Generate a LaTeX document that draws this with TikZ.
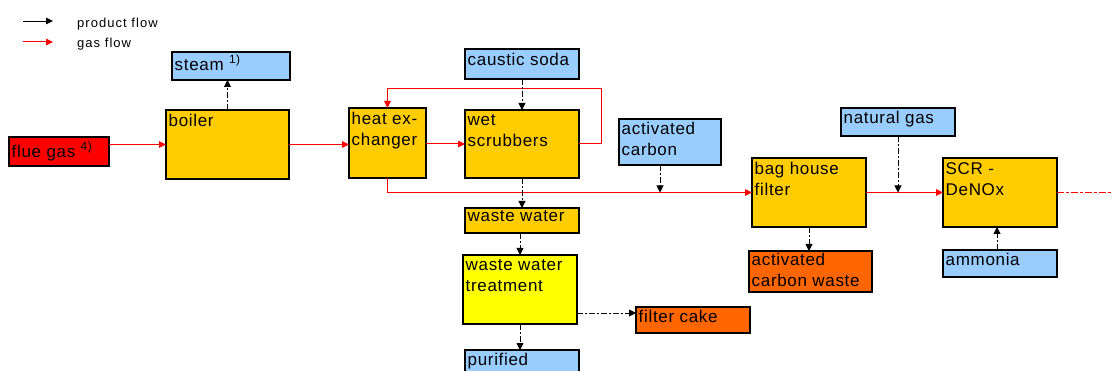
\documentclass[tikz,border=0pt]{standalone}
\usepackage{fontspec}
\setmainfont{Liberation Sans}
\newfontfamily\bfnt[LetterSpace=4]{Liberation Sans}
\newfontfamily\lfnt[LetterSpace=8]{Liberation Sans}
\usetikzlibrary{arrows.meta,calc}
\definecolor{cblue}{HTML}{99CCFF}
\definecolor{cgold}{HTML}{FFCC00}
\definecolor{cred}{HTML}{FF0000}
\definecolor{corange}{HTML}{FF6600}
\definecolor{cyellow}{HTML}{FFFF00}
\tikzset{
  box/.style={draw=black, line width=1.3pt, anchor=north west, inner sep=0pt, outer sep=0pt},
  lbl/.style={anchor=north west, align=left, inner xsep=2.5pt, inner ysep=4pt,
              font=\bfnt\fontsize{17}{21}\selectfont},
  prod/.style={draw=black, line width=0.9pt, dash pattern=on 6pt off 2pt on 2pt off 2pt,
               -{Triangle[length=7pt,width=7pt]}},
  gas/.style={draw=cred, line width=1pt, -{Triangle[length=7pt,width=6.5pt]}},
  legtxt/.style={anchor=west, inner sep=0pt, font=\lfnt\fontsize{13}{15}\selectfont},
}
\begin{document}
\begin{tikzpicture}[x=1pt,y=-1pt]
\useasboundingbox (0,0) rectangle (1113,371);
\clip (0,0) rectangle (1113,371);
\fill[white] (0,0) rectangle (1113,371);
% legend
\coordinate (l1a) at (23,21);
\coordinate (l1b) at (53,21);
\coordinate (l2a) at (23,42);
\coordinate (l2b) at (53,42);
\draw[black, line width=0.9pt, -{Triangle[length=7pt,width=6.5pt]}] (l1a) -- (l1b);
\draw[gas] (l2a) -- (l2b);
\node[legtxt] (l1t) at (77,24) {product flow};
\node[legtxt] (l2t) at (77,44) {gas flow};
% boxes
\node[box, fill=cblue, minimum width=118pt, minimum height=28pt, label={[lbl, inner ysep=3pt]north west:steam \textsuperscript{1)}}] (steam) at (172,52) {};
\node[box, fill=cgold, minimum width=123pt, minimum height=69pt, label={[lbl]north west:boiler}] (boiler) at (166,110) {};
\node[box, fill=cred, minimum width=100pt, minimum height=29pt, label={[lbl, inner ysep=5pt]north west:flue gas \textsuperscript{4)}}] (flue) at (9,137) {};
\node[box, fill=cgold, minimum width=77pt, minimum height=70pt, label={[lbl]north west:{heat ex-\\changer}}] (hx) at (349,108) {};
\node[box, fill=cgold, minimum width=114pt, minimum height=68pt, label={[lbl]north west:{wet\\scrubbers}}] (ws) at (465,110) {};
\node[box, fill=cblue, minimum width=114pt, minimum height=30pt, label={[lbl]north west:caustic soda}] (soda) at (465,49) {};
\node[box, fill=cgold, minimum width=114pt, minimum height=25pt, label={[lbl, inner ysep=2.5pt]north west:waste water}] (ww) at (465,208) {};
\node[box, fill=cyellow, minimum width=114pt, minimum height=69pt, label={[lbl]north west:{waste water\\treatment}}] (wwt) at (463,255) {};
\node[box, fill=corange, minimum width=114pt, minimum height=26pt, label={[lbl, inner ysep=3pt]north west:filter cake}] (cake) at (636,307) {};
\node[box, fill=cblue, minimum width=114pt, minimum height=30pt, label={[lbl, inner ysep=3pt]north west:purified}] (pur) at (465,350) {};
\node[box, fill=cblue, minimum width=102pt, minimum height=46pt, label={[lbl, inner ysep=3pt]north west:{activated\\carbon}}] (ac) at (619,119) {};
\node[box, fill=cgold, minimum width=114pt, minimum height=69pt, label={[lbl]north west:{bag house\\filter}}] (bag) at (752,158) {};
\node[box, fill=corange, minimum width=123pt, minimum height=41pt, label={[lbl, inner ysep=1.5pt]north west:{activated\\carbon waste}}] (acw) at (749,251) {};
\node[box, fill=cblue, minimum width=114pt, minimum height=28pt, label={[lbl, inner ysep=2.5pt]north west:natural gas}] (ng) at (841,108) {};
\node[box, fill=cgold, minimum width=114pt, minimum height=69pt, label={[lbl]north west:{SCR -\\DeNOx}}] (scr) at (943,158) {};
\node[box, fill=cblue, minimum width=114pt, minimum height=27pt, label={[lbl, inner ysep=3pt]north west:ammonia}] (amm) at (943,250) {};
\coordinate (out) at (1113,192.5);
% gas flow
\draw[gas] (boiler.west -| flue.east) -- (boiler.west);
\draw[gas] (boiler.east) -- (boiler.east -| hx.west);
\draw[gas] (ws.west -| hx.east) -- (ws.west);
\draw[gas] (ws.east) -- ++(22,0) -- ++(0,-55) -| (hx.north);
\draw[gas] (hx.south) |- (bag.west);
\draw[gas] (bag.east) -- (scr.west);
\draw[draw=cred, line width=1pt, dash pattern=on 7pt off 2pt on 3pt off 2pt] (scr.east) -- (out);
% product flow
\draw[prod] (boiler.north) -- (boiler.north |- steam.south);
\draw[prod] (soda.south) -- (ws.north);
\draw[prod] (ws.south) -- (ww.north);
\draw[prod] (wwt.north |- ww.south) -- (wwt.north);
\draw[prod] ($(wwt.south east)+(0,-11)$) coordinate (c1) -- (c1 -| cake.west);
\draw[prod] (wwt.south) -- (wwt.south |- pur.north);
\draw[prod] ($(ac.south)+(-10,0)$) coordinate (c2) -- (c2 |- bag.west);
\draw[prod] (bag.south) -- (bag.south |- acw.north);
\draw[prod] (ng.south) -- (ng.south |- scr.west);
\draw[prod] ($(amm.north)+(-3,0)$) coordinate (c3) -- (c3 |- scr.south);
\end{tikzpicture}
\end{document}
